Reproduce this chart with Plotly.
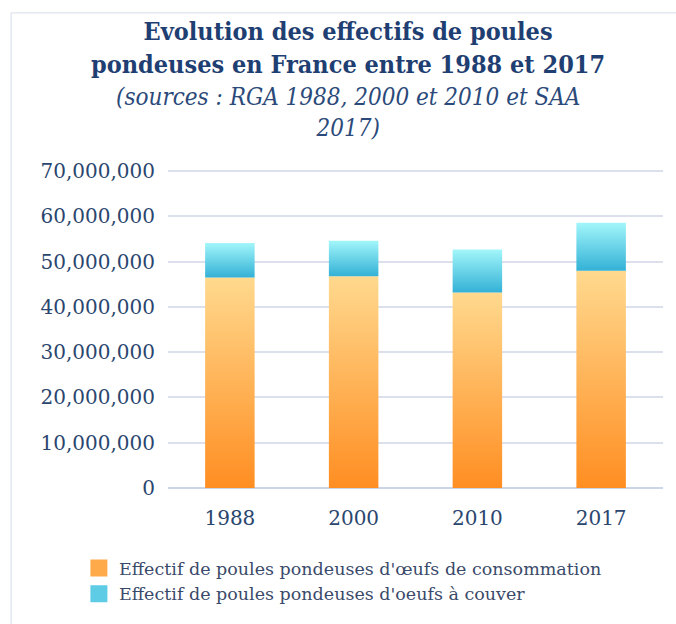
import plotly.graph_objects as go

# Données (nombre de poules)
annees = ["1988", "2000", "2010", "2017"]
oeufs_consommation = [46_500_000, 46_800_000, 43_200_000, 48_000_000]
oeufs_a_couver = [7_600_000, 7_800_000, 9_500_000, 10_600_000]
y_ticks = [0, 10_000_000, 20_000_000, 30_000_000, 40_000_000, 50_000_000, 60_000_000, 70_000_000]

nom_conso = "Effectif de poules pondeuses d'œufs de consommation"
nom_couver = "Effectif de poules pondeuses d'oeufs à couver"

ORANGE = [[0, "#FF8E22"], [1, "#FFD98E"]]
BLEU = [[0, "#33B1D6"], [1, "#A2F6FA"]]
TXT = "#2A466E"
FONT = "DejaVu Serif"
LARGEUR = 0.4  # largeur des barres en unités de catégorie

fig = go.Figure()


def barre(i, bas, haut, echelle):
    """Rectangle rempli d'un dégradé vertical, posé sur l'axe x numérique."""
    x0, x1 = i - LARGEUR / 2, i + LARGEUR / 2
    fig.add_trace(go.Scatter(
        x=[x0, x1, x1, x0, x0],
        y=[bas, bas, haut, haut, bas],
        mode="lines", fill="toself",
        fillgradient=dict(type="vertical", colorscale=echelle),
        line=dict(width=0), showlegend=False, hoverinfo="skip",
    ))


for i, (a, b) in enumerate(zip(oeufs_consommation, oeufs_a_couver)):
    barre(i, 0, a, ORANGE)
    barre(i, a, a + b, BLEU)

# entrées de légende (carrés pleins)
fig.add_trace(go.Bar(x=[None], y=[None], name=nom_conso,
                     marker=dict(color="#FFAA4A", line=dict(color="#FFAA4A", width=6))))
fig.add_trace(go.Bar(x=[None], y=[None], name=nom_couver,
                     marker=dict(color="#5FCCE6", line=dict(color="#5FCCE6", width=6))))

# cadre du graphique
fig.add_shape(type="rect", xref="paper", yref="paper",
              x0=-0.317, x1=1.1, y0=-0.5, y1=1.494,
              line=dict(color="#D5DEEA", width=1), layer="below")

fig.add_annotation(
    text="<b>Evolution des effectifs de poules<br>pondeuses en France entre 1988 et 2017</b>",
    xref="paper", yref="paper", x=0.364, y=1.383, xanchor="center", yanchor="middle",
    showarrow=False,
    font=dict(family="DejaVu Serif Condensed, DejaVu Serif", size=25, color="#1F3F73"),
)
fig.add_annotation(
    text="<i>(sources : RGA 1988, 2000 et 2010 et SAA<br>2017)</i>",
    xref="paper", yref="paper", x=0.364, y=1.18, xanchor="center", yanchor="middle",
    showarrow=False,
    font=dict(family="DejaVu Serif Condensed, DejaVu Serif", size=24, color="#2B4A7A"),
)

fig.update_layout(
    width=676, height=624,
    paper_bgcolor="white", plot_bgcolor="white",
    margin=dict(l=168, r=13, t=170, b=134),
    font=dict(family=FONT, color=TXT),
    showlegend=True,
    legend=dict(orientation="v", x=-0.18, xanchor="left", y=-0.39, yanchor="bottom",
                font=dict(size=17.5, color="#3A4A6A"), traceorder="normal",
                tracegroupgap=0, itemwidth=30),
    xaxis=dict(range=[-0.5, 3.5], tickvals=list(range(len(annees))), ticktext=annees,
               showgrid=False, zeroline=False, showline=False,
               tickfont=dict(size=20, color=TXT), ticklabelstandoff=16),
    yaxis=dict(range=[0, 70_250_000], tickvals=y_ticks, tickformat=",",
               showgrid=True, gridcolor="#DCDFEC", gridwidth=2,
               zeroline=True, zerolinecolor="#CAD5E8", zerolinewidth=2,
               tickfont=dict(size=20, color=TXT), ticklabelstandoff=12),
)

fig.write_html("out.html", config={"displayModeBar": False},
               post_script="document.body.style.margin='0';")
